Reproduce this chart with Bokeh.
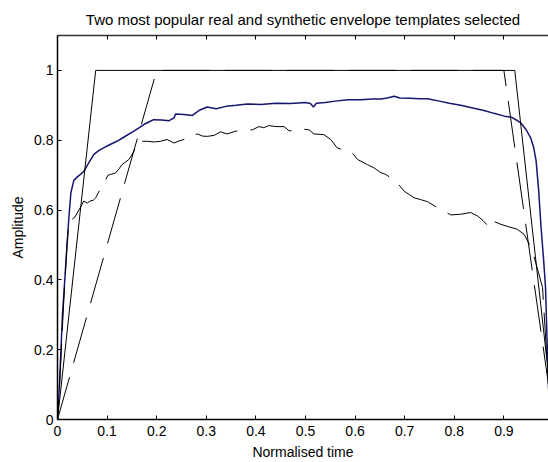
from bokeh.plotting import figure
from bokeh.models import Range1d, FixedTicker, LinearAxis
from bokeh.embed import file_html
from bokeh.resources import INLINE

title_text = "Two most popular real and synthetic envelope templates selected"
x_label = "Normalised time"
y_label = "Amplitude"
x_ticks = [0, 0.1, 0.2, 0.3, 0.4, 0.5, 0.6, 0.7, 0.8, 0.9]
x_tick_labels = ["0", "0.1", "0.2", "0.3", "0.4", "0.5", "0.6", "0.7", "0.8", "0.9"]
y_ticks = [0, 0.2, 0.4, 0.6, 0.8, 1.0]
y_tick_labels = ["0", "0.2", "0.4", "0.6", "0.8", "1"]

# synthetic templates (trapezoids)
synth_a_x = [0, 0.077, 0.922, 1.0]
synth_a_y = [0, 1, 1, 0]
synth_b_x = [0, 0.2, 0.9, 1.0]
synth_b_y = [0, 1, 1, 0]

# real template 1 (blue)
real_a_x = [0, 0.004, 0.01, 0.017, 0.023, 0.027, 0.033, 0.04, 0.047, 0.053,
            0.063, 0.073, 0.083, 0.093, 0.105, 0.12, 0.135, 0.154, 0.165, 0.174,
            0.185, 0.194, 0.21, 0.225, 0.235, 0.238, 0.255, 0.272, 0.285, 0.302,
            0.32, 0.34, 0.36, 0.383, 0.41, 0.44, 0.47, 0.5, 0.51, 0.516,
            0.522, 0.54, 0.56, 0.585, 0.611, 0.635, 0.652, 0.665, 0.679, 0.69,
            0.71, 0.73, 0.746, 0.77, 0.79, 0.813, 0.835, 0.86, 0.88, 0.901,
            0.915, 0.925, 0.934, 0.945, 0.954, 0.96, 0.965, 0.97, 0.975, 0.98,
            0.984, 0.99, 1.0]
real_a_y = [0, 0.1, 0.3, 0.45, 0.58, 0.65, 0.685, 0.695, 0.703, 0.711,
            0.735, 0.759, 0.77, 0.778, 0.787, 0.797, 0.81, 0.826, 0.836, 0.845,
            0.853, 0.859, 0.858, 0.856, 0.864, 0.875, 0.874, 0.871, 0.885, 0.895,
            0.89, 0.897, 0.9, 0.904, 0.902, 0.906, 0.905, 0.908, 0.905, 0.895,
            0.906, 0.908, 0.912, 0.916, 0.916, 0.918, 0.918, 0.921, 0.926, 0.921,
            0.92, 0.919, 0.919, 0.912, 0.906, 0.9, 0.893, 0.885, 0.877, 0.869,
            0.866, 0.858, 0.85, 0.83, 0.807, 0.78, 0.741, 0.66, 0.55, 0.46,
            0.378, 0.09, 0.0]

# real template 2 (black dashed)
real_b_x = [0, 0.006, 0.013, 0.019, 0.023, 0.028, 0.035, 0.046, 0.053, 0.06,
            0.066, 0.072, 0.077, 0.082, 0.09, 0.097, 0.102, 0.107, 0.117, 0.124,
            0.13, 0.144, 0.154, 0.161, 0.17, 0.181, 0.195, 0.208, 0.221, 0.235,
            0.245, 0.255, 0.258, 0.27, 0.282, 0.292, 0.302, 0.316, 0.329, 0.342,
            0.359, 0.375, 0.393, 0.406, 0.416, 0.426, 0.435, 0.443, 0.457, 0.467,
            0.48, 0.494, 0.507, 0.517, 0.537, 0.551, 0.564, 0.578, 0.591, 0.605,
            0.625, 0.638, 0.652, 0.662, 0.674, 0.685, 0.699, 0.719, 0.732, 0.746,
            0.76, 0.776, 0.793, 0.813, 0.833, 0.847, 0.858, 0.87, 0.877, 0.894,
            0.91, 0.927, 0.941, 0.952, 0.962, 0.97, 0.978, 0.99, 1.0]
real_b_y = [0, 0.15, 0.35, 0.5, 0.57, 0.572, 0.58, 0.607, 0.626, 0.62,
            0.626, 0.628, 0.635, 0.649, 0.668, 0.687, 0.7, 0.702, 0.706, 0.718,
            0.73, 0.745, 0.768, 0.797, 0.797, 0.797, 0.795, 0.797, 0.802, 0.792,
            0.798, 0.802, 0.81, 0.814, 0.818, 0.812, 0.811, 0.814, 0.824, 0.818,
            0.826, 0.828, 0.83, 0.839, 0.836, 0.842, 0.84, 0.839, 0.839, 0.827,
            0.828, 0.832, 0.83, 0.818, 0.816, 0.802, 0.778, 0.772, 0.769, 0.745,
            0.73, 0.721, 0.707, 0.702, 0.69, 0.678, 0.654, 0.635, 0.63, 0.624,
            0.612, 0.599, 0.586, 0.588, 0.593, 0.583, 0.57, 0.551, 0.569, 0.559,
            0.552, 0.545, 0.53, 0.5, 0.46, 0.42, 0.378, 0.1, 0.0]

FONT = "Liberation Sans"

p = figure(width=548, height=462, output_backend="svg", toolbar_location=None,
           x_range=Range1d(0, 0.99), y_range=Range1d(0, 1.1),
           min_border_left=57, min_border_right=0, min_border_top=0, min_border_bottom=0)
p.outline_line_color = None
p.grid.visible = False
p.background_fill_color = "white"
p.border_fill_color = "white"

bottom = p.below[0]
left = p.left[0]

p.title.text = title_text
p.title.align = "center"
p.title.text_font = FONT
p.title.text_font_size = "15px"
p.title.text_font_style = "normal"
p.title.text_color = "black"
p.title.standoff = 16

top = LinearAxis(ticker=FixedTicker(ticks=x_ticks), major_label_text_font_size="0px",
                 major_label_standoff=0)
p.add_layout(top, "above")

for ax in [bottom, left, top]:
    ax.major_tick_in = 4
    ax.major_tick_out = 0
    ax.minor_tick_line_color = None
    ax.axis_line_width = 1.5
    ax.axis_line_color = "black"
    ax.major_tick_line_color = "black"
    ax.major_label_text_font = FONT
    ax.major_label_text_color = "black"
    ax.axis_label_text_font = FONT
    ax.axis_label_text_font_style = "normal"
    ax.axis_label_text_color = "black"
    ax.axis_label_text_font_size = "14px"

top.axis_line_color = "#333333"
top.major_label_text_font_size = "0px"
top.major_label_overrides = {t: "" for t in x_ticks}

bottom.ticker = FixedTicker(ticks=x_ticks)
bottom.major_label_overrides = dict(zip(x_ticks, x_tick_labels))
bottom.major_label_text_font_size = "14px"
bottom.major_label_standoff = 6
bottom.axis_label = x_label
bottom.axis_label_standoff = 5

left.ticker = FixedTicker(ticks=y_ticks)
left.major_label_overrides = dict(zip(y_ticks, y_tick_labels))
left.major_label_text_font_size = "14px"
left.major_label_standoff = 4
left.axis_label = y_label
left.axis_label_standoff = 5

p.line(real_a_x, real_a_y, line_color="#16166e", line_width=1.5)
p.line(real_b_x, real_b_y, line_color="black", line_width=1,
       line_dash="44 13", line_dash_offset=25)
p.line(synth_a_x, synth_a_y, line_color="black", line_width=1)
p.line(synth_b_x, synth_b_y, line_color="black", line_width=1,
       line_dash="47 15", line_dash_offset=3)

open("out.html", "w").write(file_html(p, INLINE))
